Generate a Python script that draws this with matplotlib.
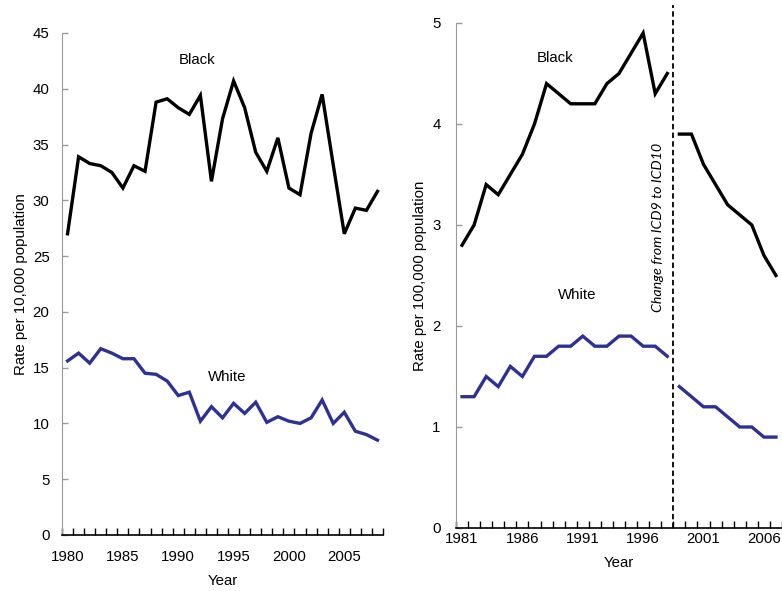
import numpy as np
import matplotlib.pyplot as plt
from matplotlib.ticker import MultipleLocator, FixedLocator

plt.rcParams['font.family'] = ['Liberation Sans', 'DejaVu Sans']

# rates per 10,000, 1980-2008
years_a = list(range(1980, 2009))
black_a = [27.0, 33.9, 33.3, 33.1, 32.5, 31.1, 33.1, 32.6, 38.8, 39.1,
           38.3, 37.7, 39.4, 31.7, 37.3, 40.7, 38.3, 34.3, 32.6, 35.6,
           31.1, 30.5, 36.0, 39.5, 33.2, 27.0, 29.3, 29.1, 30.8]
white_a = [15.6, 16.3, 15.4, 16.7, 16.3, 15.8, 15.8, 14.5, 14.4, 13.8,
           12.5, 12.8, 10.2, 11.5, 10.5, 11.8, 10.9, 11.9, 10.1, 10.6,
           10.2, 10.0, 10.5, 12.1, 10.0, 11.0, 9.3, 9.0, 8.5]

# rates per 100,000, ICD9 years and ICD10 years
years_icd9 = list(range(1981, 1999))
black_icd9 = [2.8, 3.0, 3.4, 3.3, 3.5, 3.7, 4.0, 4.4, 4.3, 4.2,
              4.2, 4.2, 4.4, 4.5, 4.7, 4.9, 4.3, 4.5]
white_icd9 = [1.3, 1.3, 1.5, 1.4, 1.6, 1.5, 1.7, 1.7, 1.8, 1.8,
              1.9, 1.8, 1.8, 1.9, 1.9, 1.8, 1.8, 1.7]
years_icd10 = list(range(1999, 2008))
black_icd10 = [3.9, 3.9, 3.6, 3.4, 3.2, 3.1, 3.0, 2.7, 2.5]
white_icd10 = [1.4, 1.3, 1.2, 1.2, 1.1, 1.0, 1.0, 0.9, 0.9]

blue = '#2E3192'
gray = '#9a9a9a'
fs = 10.8

fig = plt.figure(figsize=(7.82, 5.91), dpi=100)
ax1 = fig.add_axes([0.0793, 0.0948, 0.4105, 0.8494])
ax2 = fig.add_axes([0.5831, 0.1066, 0.4169, 0.8545])


def style(ax, first, last, step, ypad, xpad):
    for s in ['top', 'right']:
        ax.spines[s].set_visible(False)
    ax.spines['left'].set_color(gray)
    ax.spines['bottom'].set_color('black')
    ax.spines['bottom'].set_linewidth(1.2)
    ax.set_xlim(first - 0.5, last + 0.5)
    ax.xaxis.set_major_locator(FixedLocator(list(range(first, last + 1, step))))
    ax.xaxis.set_minor_locator(FixedLocator(np.arange(first - 0.5, last + 1, 1.0)))
    ax.tick_params(axis='x', which='major', length=0, pad=xpad, labelsize=fs)
    ax.tick_params(axis='x', which='minor', length=5, direction='in', width=1, color='black')
    ax.tick_params(axis='y', length=4, direction='in', color=gray, width=1,
                   pad=ypad, labelsize=fs)
    ax.set_xlabel('Year', fontsize=fs, labelpad=7)


ax1.plot(years_a, black_a, color='black', lw=2.4, solid_joinstyle='miter')
ax1.plot(years_a, white_a, color=blue, lw=2.4, solid_joinstyle='miter')
style(ax1, 1980, 2008, 5, 9, 11)
ax1.set_ylim(0, 45)
ax1.yaxis.set_major_locator(MultipleLocator(5))
ax1.set_ylabel('Rate per 10,000 population', fontsize=fs, labelpad=3.5)
ax1.text(1991.67, 42.56, 'Black', ha='center', va='center', fontsize=10.8)
ax1.text(1994.38, 14.18, 'White', ha='center', va='center', fontsize=10.8)

for yrs, b, w in [(years_icd9, black_icd9, white_icd9),
                  (years_icd10, black_icd10, white_icd10)]:
    ax2.plot(yrs, b, color='black', lw=2.4, solid_joinstyle='miter')
    ax2.plot(yrs, w, color=blue, lw=2.4, solid_joinstyle='miter')
style(ax2, 1981, 2007, 5, 11, 3)
ax2.set_ylim(0, 5)
ax2.yaxis.set_major_locator(MultipleLocator(1))
ax2.set_ylabel('Rate per 100,000 population', fontsize=fs, labelpad=4)
ax2.axvline(1998.5, ymin=0, ymax=1.035, color='black', lw=1.3,
            ls=(0, (3, 1.8)), clip_on=False)
ax2.text(1997.27, 2.98, 'Change from ICD9 to ICD10', rotation=90,
         ha='center', va='center', fontsize=10.3, style='italic',
         family=['Lato', 'DejaVu Sans'])
ax2.text(1988.72, 4.65, 'Black', ha='center', va='center', fontsize=10.8)
ax2.text(1990.57, 2.31, 'White', ha='center', va='center', fontsize=10.8)

fig.savefig('out.png', dpi=100)
